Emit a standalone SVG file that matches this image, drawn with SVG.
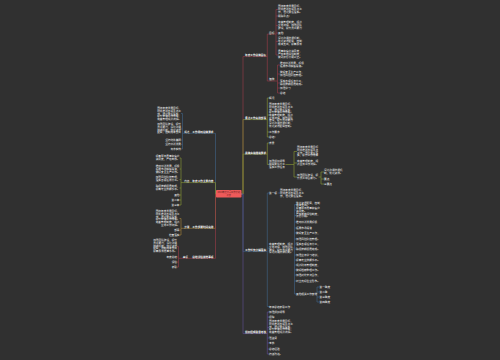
<svg xmlns="http://www.w3.org/2000/svg" width="500" height="360" viewBox="0 0 500 360">
<style>
text{font-family:"Noto Sans CJK SC","Noto Sans",sans-serif;font-size:2.65px;fill:#f6f6f6}
.e{text-anchor:end}
.b{fill:#ffffff;font-weight:bold}
.c{font-size:2.2px;fill:#5c1a1a;text-anchor:middle}
.k path{fill:none;stroke-width:0.7}
.rd{stroke:#8e3b45}.ol{stroke:#7f8c34}.bl{stroke:#3d5d7d}.pu{stroke:#5a4b88}.or{stroke:#9a7a38}
</style>
<rect width="500" height="360" fill="#303030"/>
<g id="connectors" class="k">
<path class="rd" d="M241,194 H243 V56.6 H267.3 M267.3,34.1 V81 M267.3,34.1 H276 M276,9.5 V55 M276,9.5 H278 M276,16 H278 M276,25.5 H278 M276,33 H278 M276,41.5 H278 M276,55 H278 M267.3,81 H277.5 M277.5,65 V93 M277.5,65 H280 M277.5,74 H280 M277.5,83 H280 M277.5,88 H280 M277.5,93 H280"/>
<path class="ol" d="M241,194 H243 V119.6 H267.3 M267.3,98 V137 M267.3,98 H269 M267.3,115 H269 M267.3,132 H269 M267.3,137 H269"/>
<path class="ol" d="M241,194 H243 V154.1 H267.3 M267.3,143 V164.5 M267.3,143 H269 M267.3,164.5 H269 M285.5,164.5 H294 M294,151.5 V177 M294,151.5 H297 M294,163 H297 M294,177 H297 M318.5,177 H321 M321,172 V184 M321,172 H324 M321,179 H324 M321,184 H324"/>
<path class="bl" d="M241,194 H243 V251.6 H267.3 M267.3,193 V306.5 M267.3,193 H269 M277.5,193 H280 M267.3,248 H269 M293,248 H294.5 M294.5,204.5 V294 M294.5,204.5 H296 M294.5,210 H296 M294.5,215.5 H296 M294.5,222 H296 M294.5,228 H296 M294.5,233 H296 M294.5,239 H296 M294.5,244 H296 M294.5,249 H296 M294.5,255 H296 M294.5,260 H296 M294.5,265 H296 M294.5,270 H296 M294.5,275 H296 M294.5,281 H296 M294.5,294 H296 M314.5,294 H317 M317,287 V302 M317,287 H319.5 M317,292 H319.5 M317,297 H319.5 M317,302 H319.5 M267.3,306.5 H269"/>
<path class="pu" d="M241,194 H243 V333.6 H267.3 M267.3,312 V354 M267.3,312 H269 M267.3,317 H269 M267.3,327.5 H269 M267.3,338 H269 M267.3,343 H269 M267.3,349 H269 M267.3,354 H269"/>
<path class="bl" d="M216.5,194 H215.5 V133.3 H182.5 M182.5,113.5 V149 M182.5,113.5 H181 M182.5,129 H181 M182.5,140 H181 M182.5,144.3 H181 M182.5,149 H181"/>
<path class="ol" d="M216.5,194 H215.5 V182.6 H181 M181,158 V205 M181,158 H179.5 M181,169 H179.5 M181,179.5 H179.5 M181,188 H179.5 M181,195 H179.5 M181,200 H179.5 M181,205 H179.5"/>
<path class="or" d="M216.5,194 H215.5 V228.3 H181 M181,218.5 V235 M181,218.5 H179.5 M181,230 H179.5 M181,235 H179.5"/>
<path class="rd" d="M216.5,194 H215.5 V258.3 H178.5 M178.5,246.5 V267 M178.5,246.5 H177 M178.5,257 H177 M178.5,262 H177 M178.5,267 H177"/>
</g>
<g id="center"><rect x="216" y="190" width="25.5" height="7.5" rx="0.8" fill="#ee5a5a"/><text class="c" x="228.7" y="193.3">2023年度公司工作计划</text><text class="c" x="228.7" y="196.4">范文</text></g>
<g id="r1"><text class="b" x="245" y="56">年度工作总体目标</text></g>
<g id="r1a"><text x="269" y="33.5">目标</text></g>
<g id="r1a1"><text><tspan x="278" y="7.2">围绕年度发展目标，</tspan><tspan x="278" y="9.9">统筹推进各项重点工</tspan><tspan x="278" y="12.6">作，强化责任落实。</tspan></text></g>
<g id="r1a2"><text x="278" y="17">明确重点：</text></g>
<g id="r1a3"><text><tspan x="278" y="23.2">完善管理制度，规范</tspan><tspan x="278" y="25.9">业务流程，加强团队</tspan><tspan x="278" y="28.6">建设，提升员工能力</tspan></text></g>
<g id="r1a4"><text x="278" y="34">其他</text></g>
<g id="r1a5"><text><tspan x="278" y="39.2">深化沟通协调机制，</tspan><tspan x="278" y="41.9">优化资源配置，控制</tspan><tspan x="278" y="44.6">成本支出，提高服务</tspan></text></g>
<g id="r1a6"><text><tspan x="278" y="52.2">质量和客户满意度，</tspan><tspan x="278" y="54.9">严格考核评估制度，</tspan><tspan x="278" y="57.6">做到奖惩分明公正。</tspan></text></g>
<g id="r1b"><text x="269" y="80.4">措施</text></g>
<g id="r1b1"><text><tspan x="280" y="64.2">推动创新发展，积极</tspan><tspan x="280" y="66.9">拓展市场销售渠道。</tspan></text></g>
<g id="r1b2"><text><tspan x="280" y="73.2">做好安全生产工作，</tspan><tspan x="280" y="75.9">加强风险防控管理。</tspan></text></g>
<g id="r1b3"><text><tspan x="280" y="82.2">落实各项任务分工，</tspan><tspan x="280" y="84.9">确保按期保质完成。</tspan></text></g>
<g id="r1b4"><text x="280" y="89">加强学习</text></g>
<g id="r1b5"><text x="280" y="94">总结</text></g>
<g id="r2"><text class="b" x="245" y="119">重点工作安排部署</text></g>
<g id="r2a"><text x="269" y="99">概况</text></g>
<g id="r2b"><text><tspan x="269" y="105.2">围绕年度发展目标，</tspan><tspan x="269" y="107.9">统筹推进各项重点工</tspan><tspan x="269" y="110.6">作，强化责任落实，</tspan><tspan x="269" y="113.3">提升整体工作效率。</tspan><tspan x="269" y="116">完善管理制度，规范</tspan><tspan x="269" y="118.7">业务流程，加强团队</tspan><tspan x="269" y="121.4">建设，提升员工能力</tspan><tspan x="269" y="124.1">深化沟通协调机制，</tspan><tspan x="269" y="126.8">优化资源配置控制。</tspan></text></g>
<g id="r2c"><text x="269" y="133">工作要求</text></g>
<g id="r2d"><text x="269" y="138">总结：</text></g>
<g id="r3"><text class="b" x="245" y="153.5">具体实施措施要求</text></g>
<g id="r3a"><text x="269" y="144">背景</text></g>
<g id="r3b"><text><tspan x="269" y="162.2">加强组织领导</tspan><tspan x="269" y="164.9">明确责任分工</tspan><tspan x="269" y="167.6">落实工作任务</tspan></text></g>
<g id="r3b1"><text><tspan x="297" y="148.2">围绕年度发展目标</tspan><tspan x="297" y="150.9">统筹推进各项重点</tspan><tspan x="297" y="153.6">工作，强化责任落</tspan><tspan x="297" y="156.3">实，提升工作效率</tspan></text></g>
<g id="r3b2"><text><tspan x="297" y="162.2">完善管理制度，规</tspan><tspan x="297" y="164.9">范业务工作流程。</tspan></text></g>
<g id="r3b3"><text><tspan x="297" y="176.2">加强团队建设，提</tspan><tspan x="297" y="178.9">升员工综合能力。</tspan></text></g>
<g id="r3b3a"><text><tspan x="324" y="171.2">深化沟通协调机</tspan><tspan x="324" y="173.9">制，优化资源。</tspan></text></g>
<g id="r3b3b"><text x="324" y="180">要点</text></g>
<g id="r3b3c"><text x="324" y="185">三要点</text></g>
<g id="r4"><text class="b" x="245" y="251">工作任务分解落实</text></g>
<g id="r4a"><text x="269" y="194">第一项</text></g>
<g id="r4a1"><text><tspan x="280" y="191.2">围绕年度发展目标，</tspan><tspan x="280" y="193.9">统筹推进各项重点工</tspan><tspan x="280" y="196.6">作，强化责任落实。</tspan></text></g>
<g id="r4b"><text><tspan x="269" y="245.2">完善管理制度，规范</tspan><tspan x="269" y="247.9">业务流程，加强团队</tspan><tspan x="269" y="250.6">建设，提升员工能力</tspan><tspan x="269" y="253.3">深化沟通协调机制。</tspan></text></g>
<g id="r4b1"><text><tspan x="296" y="203.7">优化资源配置，控制</tspan><tspan x="296" y="206.4">成本支出。</tspan></text></g>
<g id="r4b2"><text><tspan x="296" y="209.2">提高服务质量和客户</tspan><tspan x="296" y="211.9">满意度。</tspan></text></g>
<g id="r4b3"><text><tspan x="296" y="214.7">严格考核评估制度，</tspan><tspan x="296" y="217.4">奖惩分明。</tspan></text></g>
<g id="r4b4"><text x="296" y="223">推动创新发展积极</text></g>
<g id="r4b5"><text x="296" y="229">拓展市场渠道</text></g>
<g id="r4b6"><text x="296" y="234">做好安全生产工作，</text></g>
<g id="r4b7"><text x="296" y="240">加强风险防控管理。</text></g>
<g id="r4b8"><text x="296" y="245">落实各项任务分工，</text></g>
<g id="r4b9"><text x="296" y="250">确保按期保质完成。</text></g>
<g id="r4b10"><text x="296" y="256">加强业务学习培训，</text></g>
<g id="r4b11"><text x="296" y="261">提高专业技能水平。</text></g>
<g id="r4b12"><text x="296" y="266">规范财务管理制度，</text></g>
<g id="r4b13"><text x="296" y="271">做好档案整理工作。</text></g>
<g id="r4b14"><text x="296" y="276">加强对外交流合作，</text></g>
<g id="r4b15"><text x="296" y="282">树立良好企业形象。</text></g>
<g id="r4b16"><text x="296" y="295">其他相关工作安排</text></g>
<g id="r4b16a"><text x="319.5" y="288">第一季度</text></g>
<g id="r4b16b"><text x="319.5" y="293">第二季</text></g>
<g id="r4b16c"><text x="319.5" y="298">第三季度</text></g>
<g id="r4b16d"><text x="319.5" y="303">第四季度</text></g>
<g id="r4c"><text x="269" y="307.5">年底总结表彰工作</text></g>
<g id="r5"><text class="b" x="245" y="333">组织保障监督考核</text></g>
<g id="r5a"><text x="269" y="313">加强组织领导</text></g>
<g id="r5b"><text x="269" y="318">保障</text></g>
<g id="r5c"><text><tspan x="269" y="322.2">围绕年度发展目标，</tspan><tspan x="269" y="324.9">统筹推进各项重点工</tspan><tspan x="269" y="327.6">作，强化责任落实，</tspan><tspan x="269" y="330.3">提升整体工作效率，</tspan><tspan x="269" y="333">完善管理规范流程。</tspan></text></g>
<g id="r5d"><text x="269" y="339">强监督</text></g>
<g id="r5e"><text x="269" y="344">考核</text></g>
<g id="r5f"><text x="269" y="350">总结经验</text></g>
<g id="r5g"><text x="269" y="355">持续改进。</text></g>
<g id="l1"><text class="b e" x="213.5" y="132.7">工作原则总体要求</text></g>
<g id="l1a"><text class="e" x="189.5" y="132.7">概述</text></g>
<g id="l1a1"><text class="e"><tspan x="181" y="109.2">围绕年度发展目标，</tspan><tspan x="181" y="111.9">统筹推进各项重点工</tspan><tspan x="181" y="114.6">作，强化责任落实，</tspan><tspan x="181" y="117.3">提升整体工作效率，</tspan><tspan x="181" y="120">完善管理规范流程。</tspan></text></g>
<g id="l1a2"><text class="e"><tspan x="181" y="125.2">加强团队建设，提升</tspan><tspan x="181" y="127.9">员工能力，深化沟通</tspan><tspan x="181" y="130.6">协调机制，优化资源</tspan><tspan x="181" y="133.3">配置，控制成本支出</tspan></text></g>
<g id="l1a3"><text class="e" x="181" y="141">坚持统筹兼顾</text></g>
<g id="l1a4"><text class="e" x="181" y="145.3">坚持创新发展</text></g>
<g id="l1a5"><text class="e" x="181" y="150">务求实效</text></g>
<g id="l2"><text class="b e" x="213.5" y="182">年度工作主要内容</text></g>
<g id="l2a"><text class="e" x="189.5" y="182">内容</text></g>
<g id="l2a1"><text class="e"><tspan x="179.5" y="157.2">提高服务质量和客户</tspan><tspan x="179.5" y="159.9">满意度，严格考核。</tspan></text></g>
<g id="l2a2"><text class="e"><tspan x="179.5" y="167.2">推动创新发展，积极</tspan><tspan x="179.5" y="169.9">拓展市场销售渠道，</tspan><tspan x="179.5" y="172.6">做好安全生产工作。</tspan></text></g>
<g id="l2a3"><text class="e"><tspan x="179.5" y="178.2">加强风险防控管理，</tspan><tspan x="179.5" y="180.9">落实各项任务分工。</tspan></text></g>
<g id="l2a4"><text class="e"><tspan x="179.5" y="187.2">确保按期保质完成，</tspan><tspan x="179.5" y="189.9">提高专业技能水平。</tspan></text></g>
<g id="l2a5"><text class="e" x="179.5" y="196">其他</text></g>
<g id="l2a6"><text class="e" x="179.5" y="201">第二条</text></g>
<g id="l2a7"><text class="e" x="179.5" y="206">第三条</text></g>
<g id="l3"><text class="b e" x="213.5" y="227.7">工作步骤时间安排</text></g>
<g id="l3a"><text class="e" x="189.5" y="227.7">步骤</text></g>
<g id="l3a1"><text class="e"><tspan x="179.5" y="212.2">围绕年度发展目标，</tspan><tspan x="179.5" y="214.9">统筹推进各项重点工</tspan><tspan x="179.5" y="217.6">作，强化责任落实，</tspan><tspan x="179.5" y="220.3">提升整体工作效率。</tspan><tspan x="179.5" y="223">完善管理制度，规范</tspan><tspan x="179.5" y="225.7">业务工作流程。</tspan></text></g>
<g id="l3a2"><text class="e" x="179.5" y="231">部署</text></g>
<g id="l3a3"><text class="e" x="179.5" y="236">检查落实</text></g>
<g id="l4"><text class="b e" x="213.5" y="257.7">总结评估其他事项</text></g>
<g id="l4a"><text class="e" x="188" y="257.7">事项</text></g>
<g id="l4a1"><text class="e"><tspan x="177" y="241.2">加强团队建设，提升</tspan><tspan x="177" y="243.9">员工能力，深化沟通</tspan><tspan x="177" y="246.6">协调机制，优化资源</tspan><tspan x="177" y="249.3">配置，控制成本支出</tspan><tspan x="177" y="252">提高服务质量水平。</tspan></text></g>
<g id="l4a2"><text class="e" x="177" y="258">年度总结</text></g>
<g id="l4a3"><text class="e" x="177" y="263">评估</text></g>
<g id="l4a4"><text class="e" x="177" y="268">表彰</text></g>
</svg>
